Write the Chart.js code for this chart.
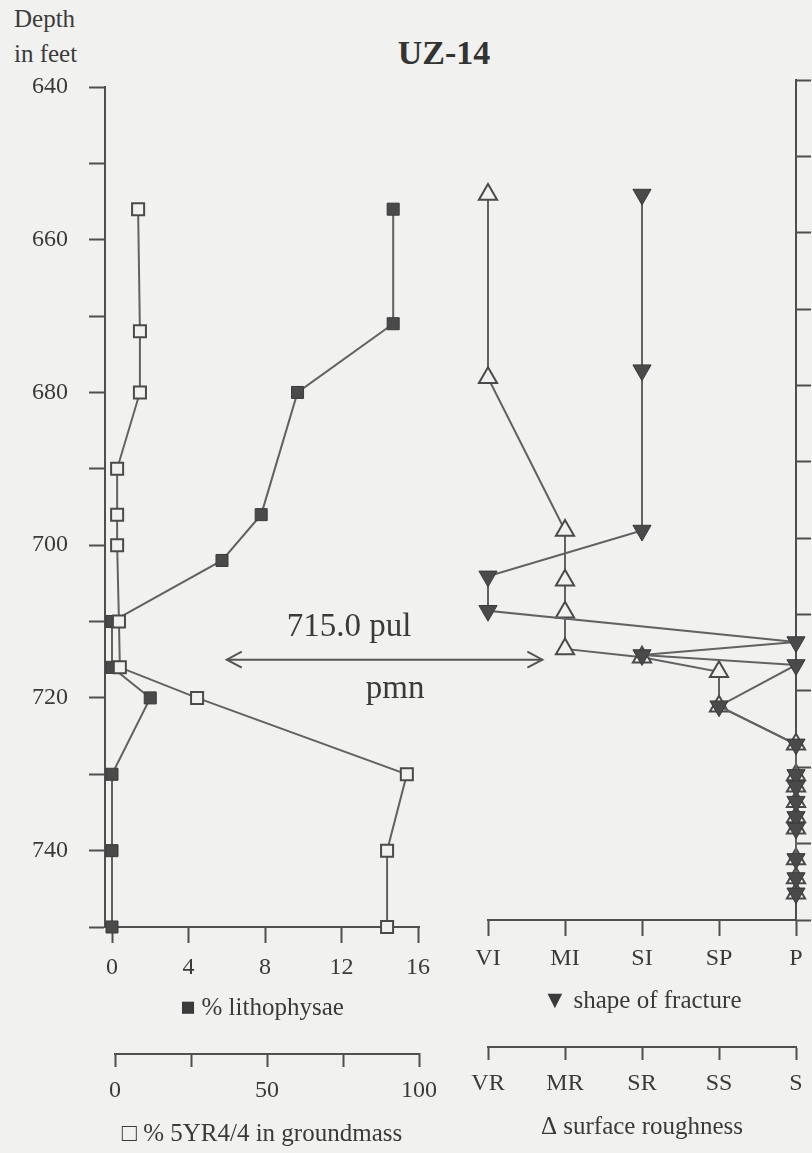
<!DOCTYPE html>
<html><head><meta charset="utf-8">
<script src="https://cdn.jsdelivr.net/npm/chart.js@4.4.0/dist/chart.umd.min.js"></script>
<style>
html,body{margin:0;padding:0;background:#f1f1ef;}
#wrap{position:relative;width:812px;height:1153px;overflow:hidden;background:#f1f1ef;}
canvas{position:absolute;left:0;top:0;}
.lbl{position:absolute;font-family:"Liberation Serif","Times New Roman",serif;color:#3c3c3c;white-space:nowrap;}
</style></head><body>
<div id="wrap">
<div class="lbl" style="left:14px;top:5px;font-size:25px;line-height:28px">Depth</div>
<div class="lbl" style="left:14px;top:40px;font-size:25px;line-height:28px">in feet</div>
<div class="lbl" style="left:344px;top:33px;width:200px;text-align:center;font-size:34px;font-weight:bold;line-height:40px;color:#333">UZ-14</div>
<canvas id="left" width="812" height="1153"></canvas>
<canvas id="right" width="812" height="1153"></canvas>
</div>
<script>
// ---------- data ----------
const DEPTH_MIN = 640, DEPTH_MAX = 750, DEPTH_STEP = 10;
const lithoDepth = [656, 671, 680, 696, 702, 710, 716, 720, 730, 740, 750];
const lithoPct   = [14.7, 14.7, 9.7, 7.8, 5.75, 0, 0, 2.0, 0, 0, 0];
const redDepth   = [656, 672, 680, 690, 696, 700, 710, 716, 720, 730, 740, 750];
const redPct     = [7.6, 8.2, 8.2, 0.7, 0.7, 0.7, 1.3, 1.6, 27, 96, 89.5, 89.5];
const lithoTicks = [0, 4, 8, 12, 16];
const redTicks   = [0, 25, 50, 75, 100];
const redTickLabels = {0: '0', 50: '50', 100: '100'};
const shapeLabels = ['VI', 'MI', 'SI', 'SP', 'P'];
const roughLabels = ['VR', 'MR', 'SR', 'SS', 'S'];
const shapeDepth = [655, 678, 699, 705, 709.5, 713.6, 715.3, 716.6, 722, 727, 731, 732.5, 734.5, 736.5, 738, 742, 744.5, 746.5];
const shapeIdx   = [2, 2, 2, 0, 0, 4, 2, 4, 3, 4, 4, 4, 4, 4, 4, 4, 4, 4];
const roughDepth = [655, 679, 699, 705.5, 709.7, 714.5, 715.6, 717.5, 722, 727, 731, 732.5, 734.5, 736.5, 738, 742, 744.5, 746.5];
const roughIdx   = [0, 0, 1, 1, 1, 1, 2, 3, 3, 4, 4, 4, 4, 4, 4, 4, 4, 4];
const ARROW_DEPTH = 715.0;
const ARROW_FROM = 6.0, ARROW_TO = 22.5;     // in % lithophysae units
const ARROW_TEXT_TOP = '715.0 pul', ARROW_TEXT_BOTTOM = 'pmn';
const TEXT_TOP_X = 12.4, TEXT_BOTTOM_X = 14.8;

// ---------- styles ----------
const FONT = '"Liberation Serif", "Times New Roman", serif';
const TXT = '#3a3a3a', AX = '#4f4f4f', LINE = '#626262', MARK = '#4a4a4a', BG = '#f1f1ef';
Chart.defaults.font.family = FONT;
Chart.defaults.color = TXT;

function axisGrid(len){ return {drawOnChartArea:false, drawTicks:true, tickLength:len, tickWidth:2, tickColor:AX, color:AX}; }
const tickFont = {family: FONT, size: 24};
const titleFont = {family: FONT, size: 25};

// ---------- left panel ----------
const leftPlugin = {
  id: 'leftExtras',
  afterDraw(chart){
    const ctx = chart.ctx, xs = chart.scales.x, x2 = chart.scales.x2, ys = chart.scales.y;
    ctx.save();
    ctx.strokeStyle = AX; ctx.lineWidth = 2;
    // second (groundmass) axis line
    ctx.beginPath();
    ctx.moveTo(x2.getPixelForValue(0) - 1, x2.top + 1);
    ctx.lineTo(x2.getPixelForValue(100) + 1, x2.top + 1);
    ctx.stroke();
    // double-headed arrow at contact
    const y = ys.getPixelForValue(ARROW_DEPTH);
    const a = xs.getPixelForValue(ARROW_FROM), b = xs.getPixelForValue(ARROW_TO);
    ctx.strokeStyle = '#555'; ctx.lineWidth = 2;
    ctx.beginPath(); ctx.moveTo(a, y); ctx.lineTo(b, y); ctx.stroke();
    ctx.beginPath();
    ctx.moveTo(a + 15, y - 8); ctx.lineTo(a, y); ctx.lineTo(a + 15, y + 8);
    ctx.moveTo(b - 15, y - 8); ctx.lineTo(b, y); ctx.lineTo(b - 15, y + 8);
    ctx.stroke();
    ctx.fillStyle = TXT; ctx.font = '33px ' + FONT;
    ctx.textAlign = 'center'; ctx.textBaseline = 'middle';
    ctx.fillText(ARROW_TEXT_TOP, xs.getPixelForValue(TEXT_TOP_X), y - 32);
    ctx.fillText(ARROW_TEXT_BOTTOM, xs.getPixelForValue(TEXT_BOTTOM_X), y + 30);
    ctx.restore();
  }
};

new Chart(document.getElementById('left'), {
  type: 'scatter',
  data: {datasets: [
    {label: '% lithophysae', xAxisID: 'x', yAxisID: 'y',
     data: lithoDepth.map((d, i) => ({x: lithoPct[i], y: d})),
     showLine: true, borderColor: LINE, borderWidth: 2, clip: false,
     pointStyle: 'rect', pointRadius: 8.5, pointBackgroundColor: MARK, pointBorderColor: '#3a3a3a', pointBorderWidth: 1, order: 1},
    {label: '% 5YR4/4 in groundmass', xAxisID: 'x2', yAxisID: 'y',
     data: redDepth.map((d, i) => ({x: redPct[i], y: d})),
     showLine: true, borderColor: LINE, borderWidth: 2, clip: false,
     pointStyle: 'rect', pointRadius: 8.5, pointBackgroundColor: BG, pointBorderColor: MARK, pointBorderWidth: 2, order: 0}
  ]},
  options: {
    responsive: false, animation: false, events: [],
    plugins: {legend: {display: false}, tooltip: {enabled: false}},
    layout: {padding: {left: 0, top: 87, right: 393, bottom: 0}},
    scales: {
      y: {type: 'linear', position: 'left', reverse: true, min: DEPTH_MIN, max: DEPTH_MAX,
          ticks: {stepSize: DEPTH_STEP, font: tickFont, color: TXT, padding: 21,
                  callback: v => (v % 20 === 0 ? String(v) : '')},
          grid: axisGrid(16), border: {display: true, color: AX, width: 2},
          afterFit: s => { s.width = 105; }},
      x: {type: 'linear', position: 'bottom', weight: 1, min: -0.366, max: 16.05,
          afterBuildTicks: s => { s.ticks = lithoTicks.map(v => ({value: v})); },
          ticks: {font: tickFont, color: TXT, padding: 10, maxRotation: 0, autoSkip: false},
          grid: axisGrid(16), border: {display: true, color: AX, width: 2},
          title: {display: true, text: '■ % lithophysae', font: titleFont, color: TXT, padding: {top: 0, bottom: 30}},
          afterFit: s => { s.height = 126; }},
      x2: {type: 'linear', position: 'bottom', weight: 2, min: -3.29, max: 100,
          afterBuildTicks: s => { s.ticks = redTicks.map(v => ({value: v})); },
          ticks: {font: tickFont, color: TXT, padding: 9, maxRotation: 0, autoSkip: false,
                  callback: v => (redTickLabels[v] !== undefined ? redTickLabels[v] : '')},
          grid: axisGrid(14), border: {display: false},
          title: {display: true, text: '□ % 5YR4/4 in groundmass', font: titleFont, color: TXT, padding: {top: 0, bottom: 4}},
          afterFit: s => { s.height = 100; }}
    }
  },
  plugins: [leftPlugin]
});

// ---------- right panel ----------
new Chart(document.getElementById('right'), {
  type: 'scatter',
  data: {datasets: [
    {label: 'shape of fracture', xAxisID: 'x', yAxisID: 'y',
     data: shapeDepth.map((d, i) => ({x: shapeIdx[i], y: d})),
     showLine: true, borderColor: LINE, borderWidth: 2, clip: false,
     pointStyle: 'triangle', pointRotation: 180, pointRadius: 10.5, pointBackgroundColor: MARK, pointBorderColor: '#3a3a3a', pointBorderWidth: 1, order: 0},
    {label: 'surface roughness', xAxisID: 'x2', yAxisID: 'y',
     data: roughDepth.map((d, i) => ({x: roughIdx[i], y: d})),
     showLine: true, borderColor: LINE, borderWidth: 2, clip: false,
     pointStyle: 'triangle', pointRadius: 10.5, pointBackgroundColor: BG, pointBorderColor: MARK, pointBorderWidth: 2, order: 1}
  ]},
  options: {
    responsive: false, animation: false, events: [],
    plugins: {legend: {display: false}, tooltip: {enabled: false}},
    layout: {padding: {left: 488, top: 80, right: 0, bottom: 0}},
    scales: {
      y: {type: 'linear', position: 'right', reverse: true, min: DEPTH_MIN, max: DEPTH_MAX,
          ticks: {stepSize: DEPTH_STEP, callback: () => ''},
          grid: axisGrid(15), border: {display: true, color: AX, width: 2},
          afterFit: s => { s.width = 16; }},
      x: {type: 'linear', position: 'bottom', weight: 1, min: 0, max: 4,
          afterBuildTicks: s => { s.ticks = shapeLabels.map((_, i) => ({value: i})); },
          ticks: {font: tickFont, color: TXT, padding: 8, maxRotation: 0, autoSkip: false,
                  callback: v => shapeLabels[v]},
          grid: axisGrid(16), border: {display: true, color: AX, width: 2},
          title: {display: true, text: '▼ shape of fracture', font: titleFont, color: TXT, padding: {top: 0, bottom: 31}},
          afterFit: s => { s.height = 127; }},
      x2: {type: 'linear', position: 'bottom', weight: 2, min: 0, max: 4,
          afterBuildTicks: s => { s.ticks = roughLabels.map((_, i) => ({value: i})); },
          ticks: {font: tickFont, color: TXT, padding: 9, maxRotation: 0, autoSkip: false,
                  callback: v => roughLabels[v]},
          grid: axisGrid(13), border: {display: true, color: AX, width: 2},
          title: {display: true, text: 'Δ surface roughness', font: titleFont, color: TXT, padding: {top: 0, bottom: 11}},
          afterFit: s => { s.height = 106; }}
    }
  }
});
</script>
</body></html>
